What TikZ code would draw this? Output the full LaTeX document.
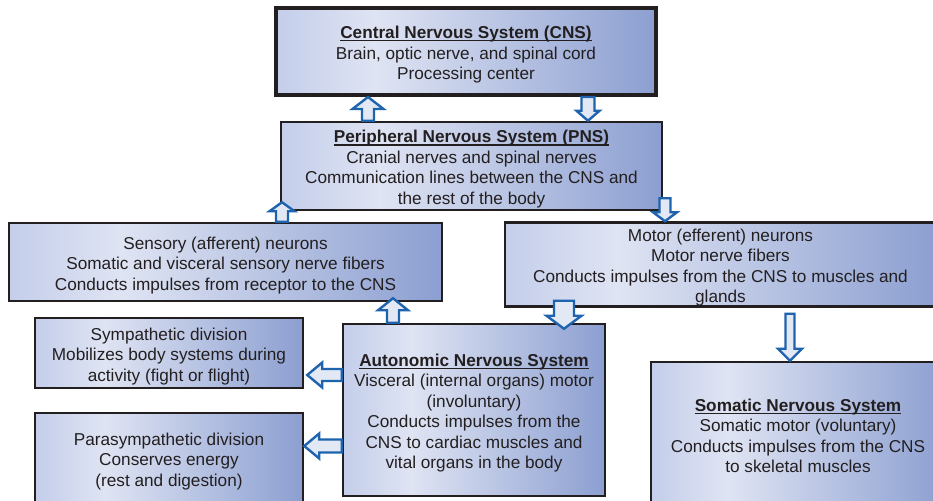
\documentclass[tikz,border=0pt]{standalone}
\usepackage{fontspec}
\setmainfont{Liberation Sans}
\usetikzlibrary{calc}
\definecolor{boxA}{HTML}{C4CEEA}
\definecolor{boxB}{HTML}{DFE4F3}
\definecolor{boxC}{HTML}{8C9FD1}
\definecolor{arrowblue}{HTML}{1E63AE}
\definecolor{arrowfill}{HTML}{E2E9F4}
\definecolor{ink}{HTML}{231F20}
\pgfdeclarehorizontalshading{boxshade}{100bp}{color(0bp)=(boxA); color(25bp)=(boxA); color(38bp)=(boxB); color(75bp)=(boxC); color(100bp)=(boxC)}
\newcommand\titleul[1]{\setbox0\hbox{\textbf{#1}}\rlap{\rule[-2.6pt]{\wd0}{1.1pt}}\box0}
\newcommand\topstrut{\rule{0pt}{19pt}}
\tikzset{
  box/.style={draw=ink, line width=2.5pt, shading=boxshade, inner sep=0pt,
    align=center, text=ink, font=\fontsize{17.2}{20.5}\selectfont},
  barrow/.style n args={3}{draw=arrowblue, fill=arrowfill, line width=2.4pt, line join=miter,
    to path={let \p1=(\tikztostart), \p2=(\tikztotarget),
      \n1={atan2(\y2-\y1,\x2-\x1)}, \n2={veclen(\x2-\x1,\y2-\y1)} in
      {[shift={(\p1)}, rotate=\n1]
        (0pt,-#1pt) -- ({\n2-#3pt},-#1pt) -- ({\n2-#3pt},-#2pt) -- ({\n2},0pt)
        -- ({\n2-#3pt},#2pt) -- ({\n2-#3pt},#1pt) -- (0pt,#1pt) -- cycle}
    }}
}
\begin{document}
\begin{tikzpicture}[x=1pt,y=-1pt]
\clip (0,0) rectangle (933,500);
\fill[white] (0,0) rectangle (933,500);

\node[box, line width=4pt, minimum width=380pt, minimum height=87pt] (cns) at (466,51.5)
  {\topstrut\titleul{Central Nervous System (CNS)}\\Brain, optic nerve, and spinal cord\\Processing center};
\node[box, minimum width=381pt, minimum height=88pt] (pns) at (471.5,166)
  {\topstrut\titleul{Peripheral Nervous System (PNS)}\\Cranial nerves and spinal nerves\\Communication lines between the CNS and\\the rest of the body};
\node[box, minimum width=433pt, minimum height=78pt] (sens) at (225.5,262)
  {\topstrut Sensory (afferent) neurons\\Somatic and visceral sensory nerve fibers\\Conducts impulses from receptor to the CNS};
\node[box, minimum width=431pt, minimum height=83pt] (motor) at (720.5,264.5)
  {\topstrut Motor (efferent) neurons\\Motor nerve fibers\\Conducts impulses from the CNS to muscles and\\glands};
\node[box, minimum width=268pt, minimum height=70pt] (sym) at (169,353)
  {\topstrut Sympathetic division\\Mobilizes body systems during\\activity (fight or flight)};
\node[box, minimum width=268pt, minimum height=90pt] (para) at (169,458)
  {\topstrut Parasympathetic division\\Conserves energy\\(rest and digestion)};
\node[box, minimum width=262pt, minimum height=172pt] (auto) at (474,410)
  {\topstrut\titleul{Autonomic Nervous System}\\Visceral (internal organs) motor\\(involuntary)\\Conducts impulses from the\\CNS to cardiac muscles and\\vital organs in the body};
\node[box, minimum width=294pt, minimum height=141pt] (som) at (798,432.5)
  {\topstrut\titleul{Somatic Nervous System}\\Somatic motor (voluntary)\\Conducts impulses from the CNS\\to skeletal muscles};

\coordinate (xA) at (368,0);
\coordinate (xB) at (588,0);
\coordinate (xC) at (282,0);
\coordinate (xD) at (665,0);
\coordinate (xE) at (393,0);
\coordinate (xF) at (564,0);
\coordinate (xG) at (790,0);
\coordinate (yH) at (0,375);
\coordinate (yI) at (0,446);

\draw[barrow={6}{15.5}{12}] (pns.north -| xA) to (cns.south -| xA);
\draw[barrow={6.5}{11.5}{10}] (cns.south -| xB) to (pns.north -| xB);
\draw[barrow={6}{12.5}{9}] (sens.north -| xC) to ($(pns.south -| xC)+(0,-9)$);
\draw[barrow={5.5}{12}{9}] ($(pns.south -| xD)+(0,-13)$) to (motor.north -| xD);
\draw[barrow={6}{15}{12}] (auto.north -| xE) to ($(sens.south -| xE)+(0,-4)$);
\draw[barrow={10}{17.5}{13}] ($(motor.south -| xF)+(0,-7)$) to ($(auto.north -| xF)+(0,6)$);
\draw[barrow={4.5}{12}{12}] ($(motor.south -| xG)+(0,6)$) to (som.north -| xG);
\draw[barrow={6}{12.5}{15}] (auto.west |- yH) to ($(sym.east |- yH)+(3,0)$);
\draw[barrow={6.5}{12.5}{15}] (auto.west |- yI) to (para.east |- yI);
\end{tikzpicture}
\end{document}
